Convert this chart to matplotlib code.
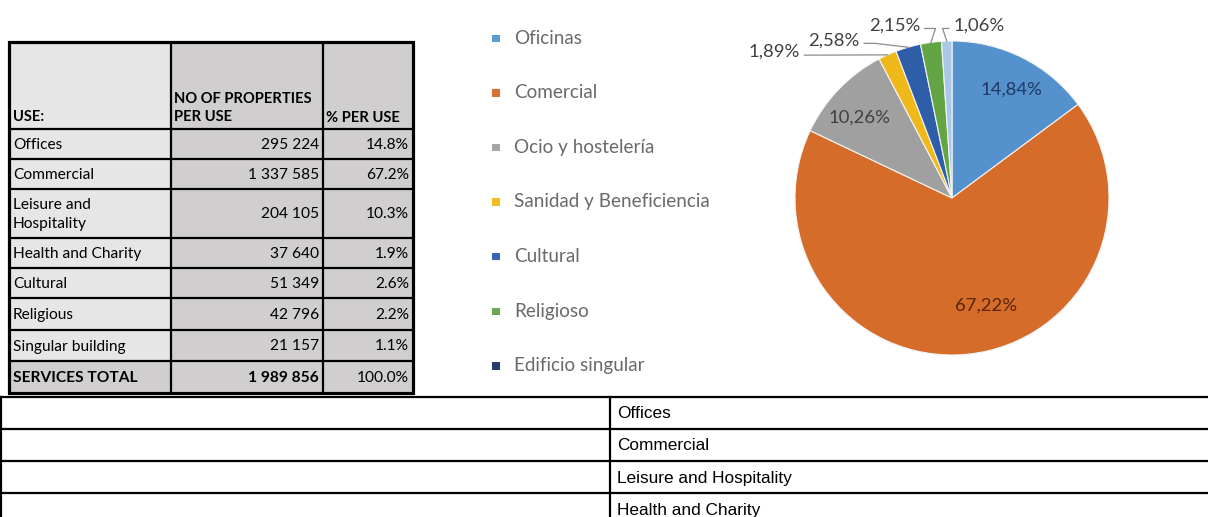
import matplotlib
matplotlib.use("Agg")
import matplotlib.pyplot as plt
from matplotlib.patches import Rectangle
import numpy as np

# Data
uses = ["Offices", "Commercial", "Leisure and\nHospitality", "Health and Charity",
        "Cultural", "Religious", "Singular building"]
counts = [295224, 1337585, 204105, 37640, 51349, 42796, 21157]
header = ["USE:", "NO OF PROPERTIES\nPER USE", "% PER USE"]
total_label = "SERVICES TOTAL"

legend_labels = ["Oficinas", "Comercial", "Ocio y hostelería", "Sanidad y Beneficiencia",
                 "Cultural", "Religioso", "Edificio singular"]
legend_colors = ["#5b9bd5", "#d8702f", "#a5a5a5", "#f5bd1f", "#3863b0", "#6aa84f", "#263c66"]
slice_colors = ["#5591cc", "#d66c2a", "#a0a0a0", "#f0b91a", "#2f5ea8", "#63a544", "#a9c8e8"]
label_colors = ["#1f3864", "#5a2608", "#404040", "#404040", "#404040", "#404040", "#404040"]

bottom_rows = ["Offices", "Commercial", "Leisure and Hospitality", "Health and Charity"]

total = sum(counts)
pcts = [c / total * 100 for c in counts]

W, H = 1208, 517
fig = plt.figure(figsize=(W / 100, H / 100), dpi=100)
fig.patch.set_facecolor("white")
ax = fig.add_axes([0, 0, 1, 1])
ax.set_xlim(0, W)
ax.set_ylim(H, 0)
ax.axis("off")

FONT = "Lato"

# ---- left table ----
col_x = [9, 171, 323, 413]
row_y = [42, 129, 159, 189, 238, 268, 298, 330, 361, 393]
light, dark = "#e6e6e6", "#d0cece"

for r in range(len(row_y) - 1):
    for c in range(3):
        fc = light if c == 0 and r < len(row_y) - 2 else dark
        ax.add_patch(Rectangle((col_x[c], row_y[r]), col_x[c + 1] - col_x[c],
                               row_y[r + 1] - row_y[r], facecolor=fc, edgecolor="none"))

for y in row_y[1:-1]:
    ax.plot([col_x[0], col_x[-1]], [y, y], color="black", lw=1.6, solid_capstyle="butt")
for x in col_x[1:-1]:
    ax.plot([x, x], [row_y[0], row_y[-1]], color="black", lw=1.6, solid_capstyle="butt")
ax.add_patch(Rectangle((col_x[0], row_y[0]), col_x[-1] - col_x[0], row_y[-1] - row_y[0],
                       facecolor="none", edgecolor="black", lw=2.3))

# header
hfs = 10.6
ax.text(col_x[0] + 4, 117, header[0], fontsize=hfs, fontweight="bold", family=FONT, va="center")
ax.text(col_x[1] + 3, 108, header[1], fontsize=hfs, fontweight="bold", family=FONT, va="center",
        linespacing=1.45)
ax.text(col_x[2] + 3, 118, header[2], fontsize=hfs, fontweight="bold", family=FONT, va="center")

# body rows
bfs = 11.2
for i, (u, c, p) in enumerate(zip(uses, counts, pcts)):
    yc = (row_y[i + 1] + row_y[i + 2]) / 2 + 1
    ax.text(col_x[0] + 4, yc, u, fontsize=bfs, family=FONT, va="center", linespacing=1.4)
    ax.text(col_x[2] - 4, yc, f"{c:,}".replace(",", " "), fontsize=bfs, family=FONT,
            va="center", ha="right")
    ax.text(col_x[3] - 4, yc, f"{p:.1f}%", fontsize=bfs, family=FONT, va="center", ha="right")

yc = (row_y[-2] + row_y[-1]) / 2 + 1
ax.text(col_x[0] + 4, yc, total_label, fontsize=bfs, fontweight="bold", family=FONT, va="center")
ax.text(col_x[2] - 4, yc, f"{total:,}".replace(",", " "), fontsize=bfs, fontweight="bold",
        family=FONT, va="center", ha="right")
ax.text(col_x[3] - 4, yc, f"{sum(pcts):.1f}%", fontsize=bfs, family=FONT, va="center", ha="right")

# ---- legend ----
for i, (lab, col) in enumerate(zip(legend_labels, legend_colors)):
    y = 38 + i * 54.6
    ax.add_patch(Rectangle((492, y - 3.5), 7.5, 7.5, facecolor=col, edgecolor="none"))
    ax.text(514, y, lab, fontsize=13.6, family=FONT, color="#6a6a6a", va="center")

# ---- bottom table ----
bt_y = [397, 429, 461, 493, 525]
for y in bt_y[:-1]:
    ax.plot([0, W], [y, y], color="black", lw=1.6, solid_capstyle="butt")
ax.plot([1, 1], [bt_y[0], H], color="black", lw=1.6)
ax.plot([610, 610], [bt_y[0], H], color="black", lw=1.6)
for i, lab in enumerate(bottom_rows):
    ax.text(617, (bt_y[i] + bt_y[i + 1]) / 2 + 1, lab, fontsize=12.4,
            family="Liberation Sans", va="center")

# ---- pie ----
cx, cy, R = 952, 198, 157
lim = 1.3
side = R * lim
pax = fig.add_axes([(cx - side) / W, (H - cy - side) / H, 2 * side / W, 2 * side / H])
wedges, _ = pax.pie(counts, colors=slice_colors, startangle=90, counterclock=False, radius=1,
                    wedgeprops=dict(edgecolor="#f4f4f4", linewidth=0.8))
pax.set_xlim(-lim, lim)
pax.set_ylim(-lim, lim)
pax.set_aspect("equal")
pax.axis("off")

# inside labels (radius, angle shift in degrees)
inside = {0: (0.79, -2), 1: (0.72, 12), 2: (0.78, 3)}
# outside labels: text centre in radius units, and which side the leader leaves
outside = {3: (-1.13, 0.93, "r"), 4: (-0.75, 1.005, "r"), 5: (-0.365, 1.10, "r"), 6: (0.17, 1.10, "l")}

pfs = 13.3
for i, w in enumerate(wedges):
    txt = f"{pcts[i]:.2f}".replace(".", ",") + "%"
    mid = np.deg2rad((w.theta1 + w.theta2) / 2)
    if i in inside:
        rr, sh = inside[i]
        a = mid + np.deg2rad(sh)
        pax.text(rr * np.cos(a), rr * np.sin(a), txt, ha="center", va="center",
                 fontsize=pfs, family=FONT, color=label_colors[i])
    else:
        tx, ty, side_ = outside[i]
        pax.text(tx, ty, txt, ha="center", va="center", fontsize=pfs, family=FONT,
                 color=label_colors[i])
        half = 0.18
        ex, ey = np.cos(mid), np.sin(mid)
        if side_ == "r":
            x0 = tx + half + 0.01
            xs = [x0, x0 + 0.07, ex]
        else:
            x0 = tx - half - 0.01
            xs = [x0, x0 - 0.04, ex]
        ys = [ty - 0.02, ty - 0.02, ey]
        pax.plot(xs, ys, color="#8c8c8c", lw=0.9)

fig.savefig("out.png", dpi=100)
